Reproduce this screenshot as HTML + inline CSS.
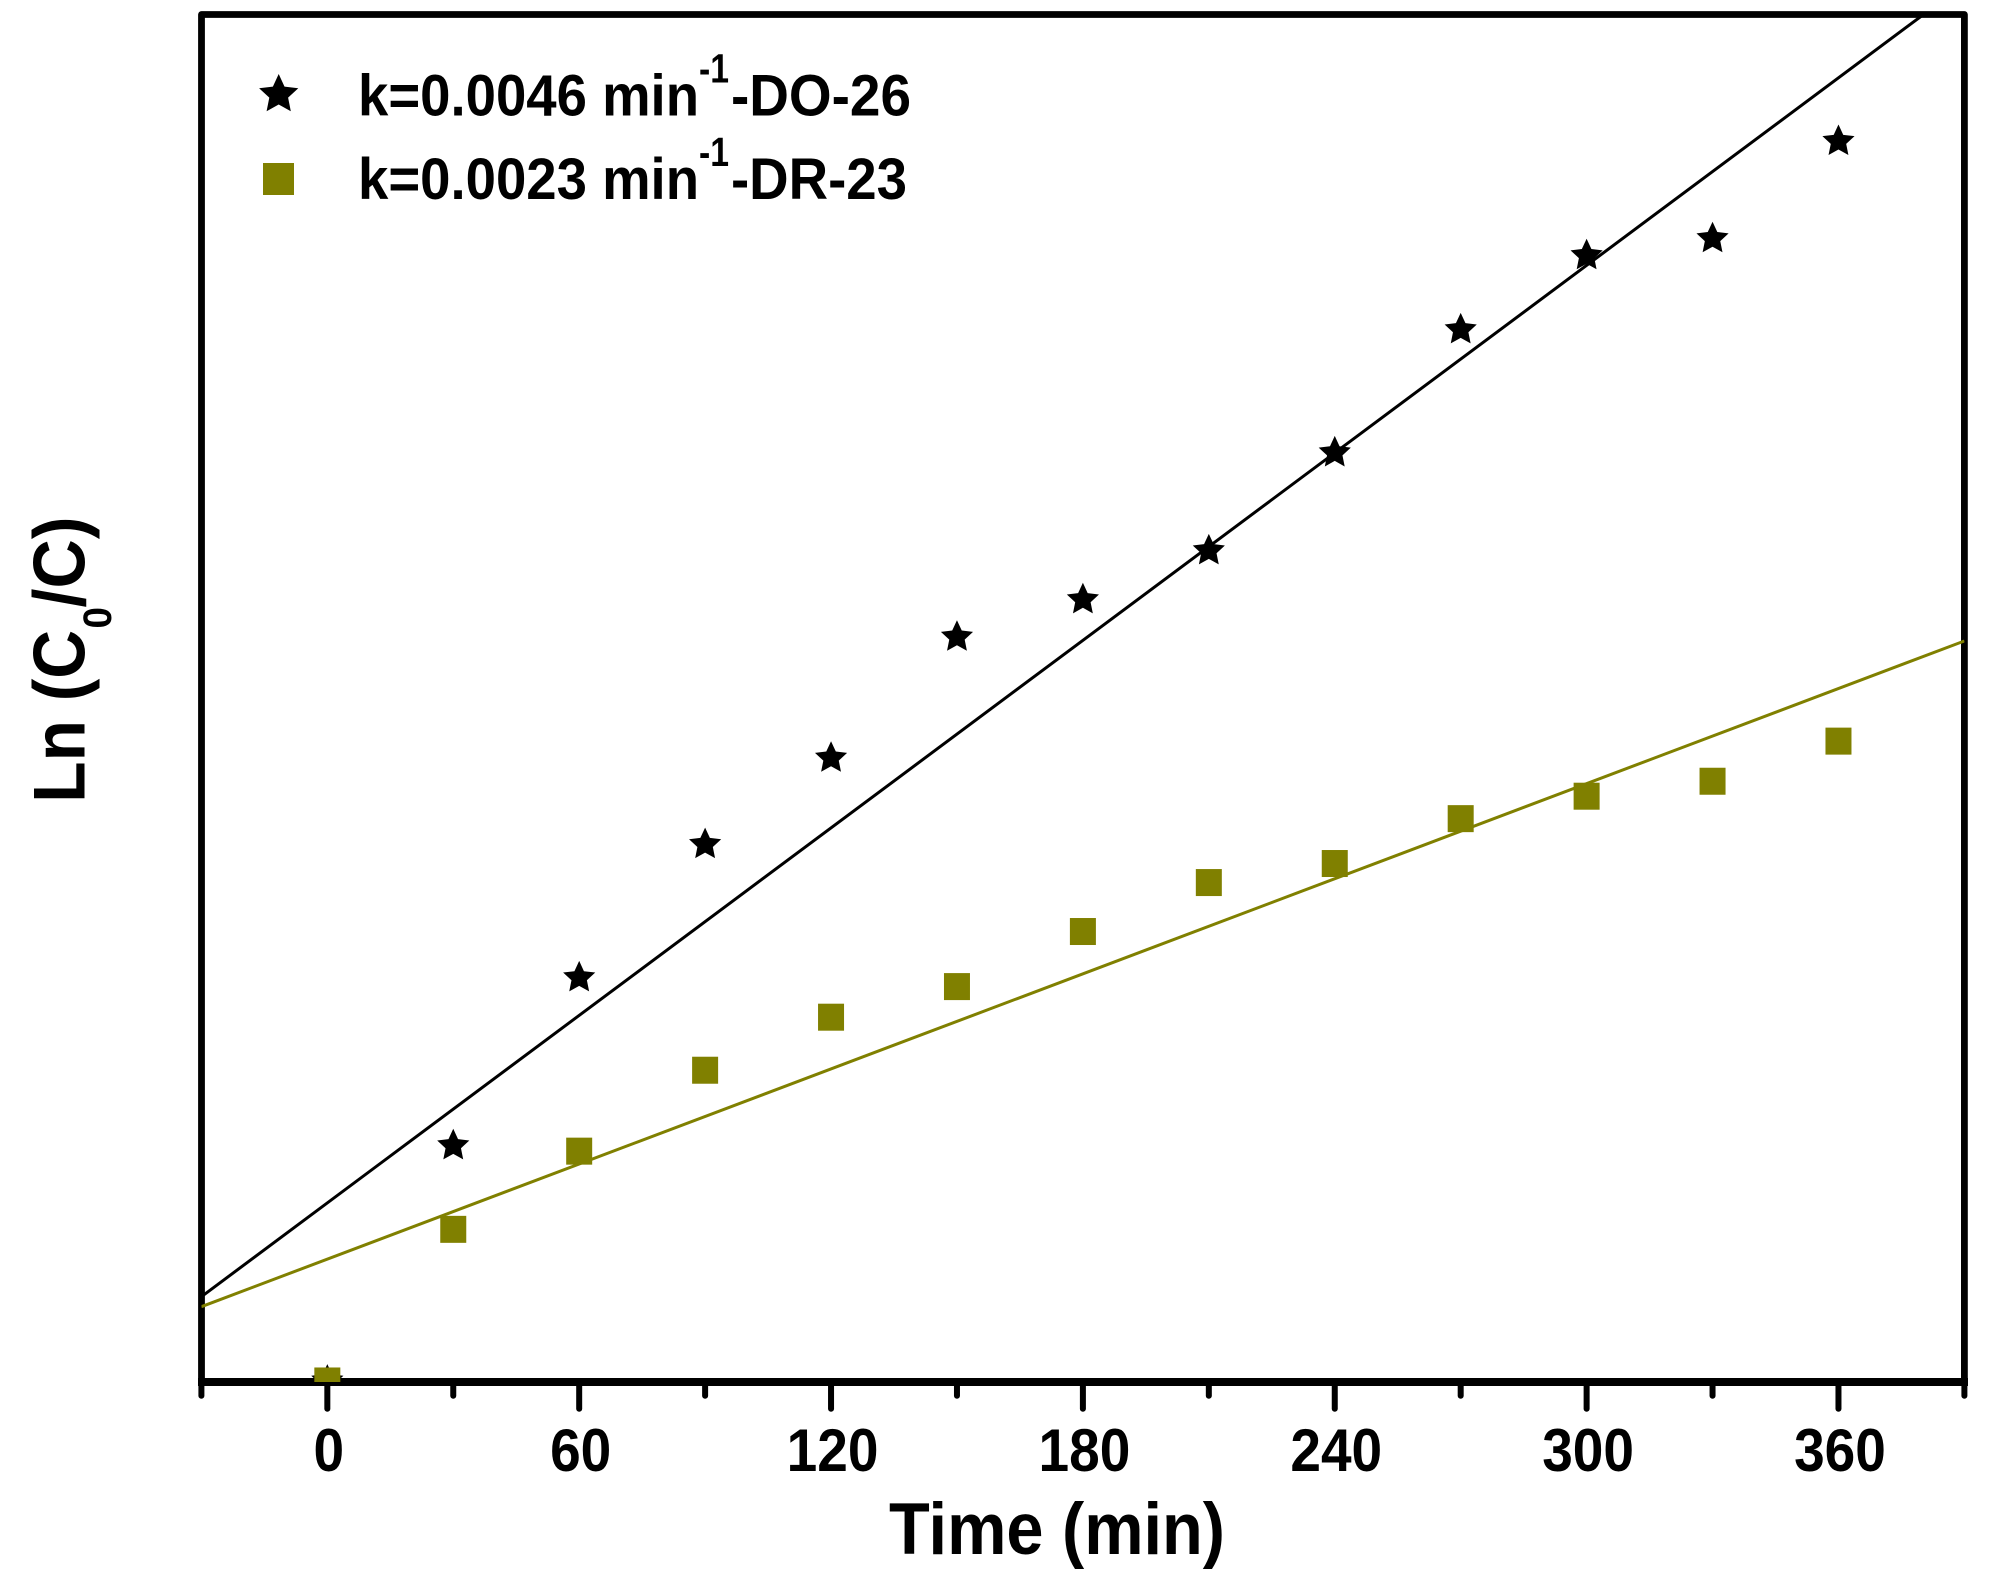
<!DOCTYPE html>
<html lang="en">
<head>
<meta charset="utf-8">
<title>Ln (C0/C) vs Time</title>
<style>
html,body{margin:0;padding:0;background:#fff;}
svg{display:block;}
text{font-family:"Liberation Sans",Arial,sans-serif;font-weight:bold;fill:#000;}
</style>
</head>
<body>
<svg id="chart" xmlns="http://www.w3.org/2000/svg" width="1997" height="1593" viewBox="0 0 1997 1593">
  <rect x="0" y="0" width="1997" height="1593" fill="#fff"/>
  <defs>
    <clipPath id="plot-clip"><rect x="201.5" y="14.5" width="1762.9" height="1367.5"/></clipPath>
  </defs>
  <g id="frame">
    <path d="M201.5 1382V14.5H1964.4V1382" fill="none" stroke="#000" stroke-width="6.8" stroke-linejoin="round"/>
    <line x1="198" y1="1382" x2="1968" y2="1382" stroke="#000" stroke-width="8"/>
  </g>
  <g id="ticks"></g>
  <g id="tick-labels"></g>
  <g id="fits" clip-path="url(#plot-clip)"></g>
  <g id="marks" clip-path="url(#plot-clip)"></g>

  <text x="889" y="1554" font-size="73.7" textLength="336" lengthAdjust="spacingAndGlyphs">Time (min)</text>

  <g>
    <text transform="translate(84.7,802.8) rotate(-90)" font-size="73.7" textLength="173" lengthAdjust="spacingAndGlyphs">Ln (C</text>
    <text transform="translate(111,628.5) rotate(-90)" font-size="40" textLength="21.5" lengthAdjust="spacingAndGlyphs">0</text>
    <text transform="translate(84.7,607.5) rotate(-90)" font-size="73.7" textLength="91" lengthAdjust="spacingAndGlyphs">/C)</text>
  </g>

  <g id="legend">
    <g>
      <text x="358" y="115.7" font-size="58.5" textLength="341" lengthAdjust="spacingAndGlyphs">k=0.0046 min</text>
      <text x="699" y="82.7" font-size="41" textLength="30" lengthAdjust="spacingAndGlyphs">-1</text>
      <text x="731" y="115.7" font-size="58.5" textLength="180" lengthAdjust="spacingAndGlyphs">-DO-26</text>
    </g>
    <g>
      <rect x="263" y="163" width="31" height="32" fill="#808000"/>
      <text x="358" y="199" font-size="58.5" textLength="341" lengthAdjust="spacingAndGlyphs">k=0.0023 min</text>
      <text x="699" y="166" font-size="41" textLength="30" lengthAdjust="spacingAndGlyphs">-1</text>
      <text x="731" y="199" font-size="58.5" textLength="176" lengthAdjust="spacingAndGlyphs">-DR-23</text>
    </g>
  </g>
</svg>

<script>
const times = [0, 30, 60, 90, 120, 150, 180, 210, 240, 270, 300, 330, 360];
const do26Values = [0, 0.346, 0.593, 0.789, 0.916, 1.094, 1.149, 1.221, 1.365, 1.546, 1.655, 1.680, 1.823];
const dr23Values = [0, 0.223, 0.338, 0.457, 0.535, 0.580, 0.661, 0.733, 0.761, 0.827, 0.860, 0.882, 0.941];
const do26Fit = [0.2619, 0.004596];
const dr23Fit = [0.1792, 0.002331];
const majorTicks = [0, 60, 120, 180, 240, 300, 360];
const minorTicks = [-30, 30, 90, 150, 210, 270, 330, 390];
const xDomain = [-30, 390];
const yDomain = [-0.0015, 2.0096];

const SVG_NS = 'http://www.w3.org/2000/svg';
const plotLeft = 201.4, plotRight = 1964.4, plotTop = 14.5, plotBottom = 1382;
const olive = '#808000';

function xScale(t) {
  return plotLeft + (t - xDomain[0]) / (xDomain[1] - xDomain[0]) * (plotRight - plotLeft);
}
function yScale(v) {
  return plotBottom - (v - yDomain[0]) / (yDomain[1] - yDomain[0]) * (plotBottom - plotTop);
}
function make(tag, attrs, parent) {
  const el = document.createElementNS(SVG_NS, tag);
  for (const k in attrs) el.setAttribute(k, attrs[k]);
  parent.appendChild(el);
  return el;
}
function starPoints(cx, cy, R) {
  const r = R * 0.48, pts = [];
  for (let i = 0; i < 10; i++) {
    const rad = i % 2 ? r : R;
    const a = -Math.PI / 2 + i * Math.PI / 5;
    pts.push((cx + rad * Math.cos(a)).toFixed(2) + ',' + (cy + rad * Math.sin(a)).toFixed(2));
  }
  return pts.join(' ');
}

const ticksG = document.getElementById('ticks');
const labelsG = document.getElementById('tick-labels');
const fitsG = document.getElementById('fits');
const marksG = document.getElementById('marks');
const legendG = document.getElementById('legend');

minorTicks.forEach(function (t) {
  const tick = make('line', {x1: xScale(t), x2: xScale(t), y1: 1384, y2: 1395.7, stroke: '#000', 'stroke-width': 6, 'stroke-linecap': 'round'}, ticksG);
  
  
});
majorTicks.forEach(function (t) {
  const tick = make('line', {x1: xScale(t), x2: xScale(t), y1: 1384, y2: 1408.7, stroke: '#000', 'stroke-width': 6, 'stroke-linecap': 'round'}, ticksG);
  
  
  const s = String(t);
  const label = make('text', {x: xScale(t) + 1.5, y: 1471, 'font-size': 60, 'text-anchor': 'middle', textLength: s.length * 30.6, lengthAdjust: 'spacingAndGlyphs'}, labelsG);
  label.textContent = s;
  
  
});

const doLine = make('line', {
  x1: xScale(xDomain[0]), y1: yScale(do26Fit[0] + do26Fit[1] * xDomain[0]),
  x2: xScale(xDomain[1]), y2: yScale(do26Fit[0] + do26Fit[1] * xDomain[1]),
  stroke: '#000', 'stroke-width': 3
}, fitsG);



const drLine = make('line', {
  x1: xScale(xDomain[0]), y1: yScale(dr23Fit[0] + dr23Fit[1] * xDomain[0]),
  x2: xScale(xDomain[1]), y2: yScale(dr23Fit[0] + dr23Fit[1] * xDomain[1]),
  stroke: olive, 'stroke-width': 3
}, fitsG);



times.forEach(function (t, i) {
  const star = make('polygon', {points: starPoints(xScale(t), yScale(do26Values[i]), 16.9), fill: '#000'}, marksG);
  
  
});
times.forEach(function (t, i) {
  const sq = make('rect', {x: xScale(t) - 13, y: yScale(dr23Values[i]) - 13.5, width: 26, height: 27, fill: olive}, marksG);
  
  
});

const legendStar = make('polygon', {points: starPoints(278.7, 94.6, 20.6), fill: '#000'}, legendG);


</script>
</body>
</html>
